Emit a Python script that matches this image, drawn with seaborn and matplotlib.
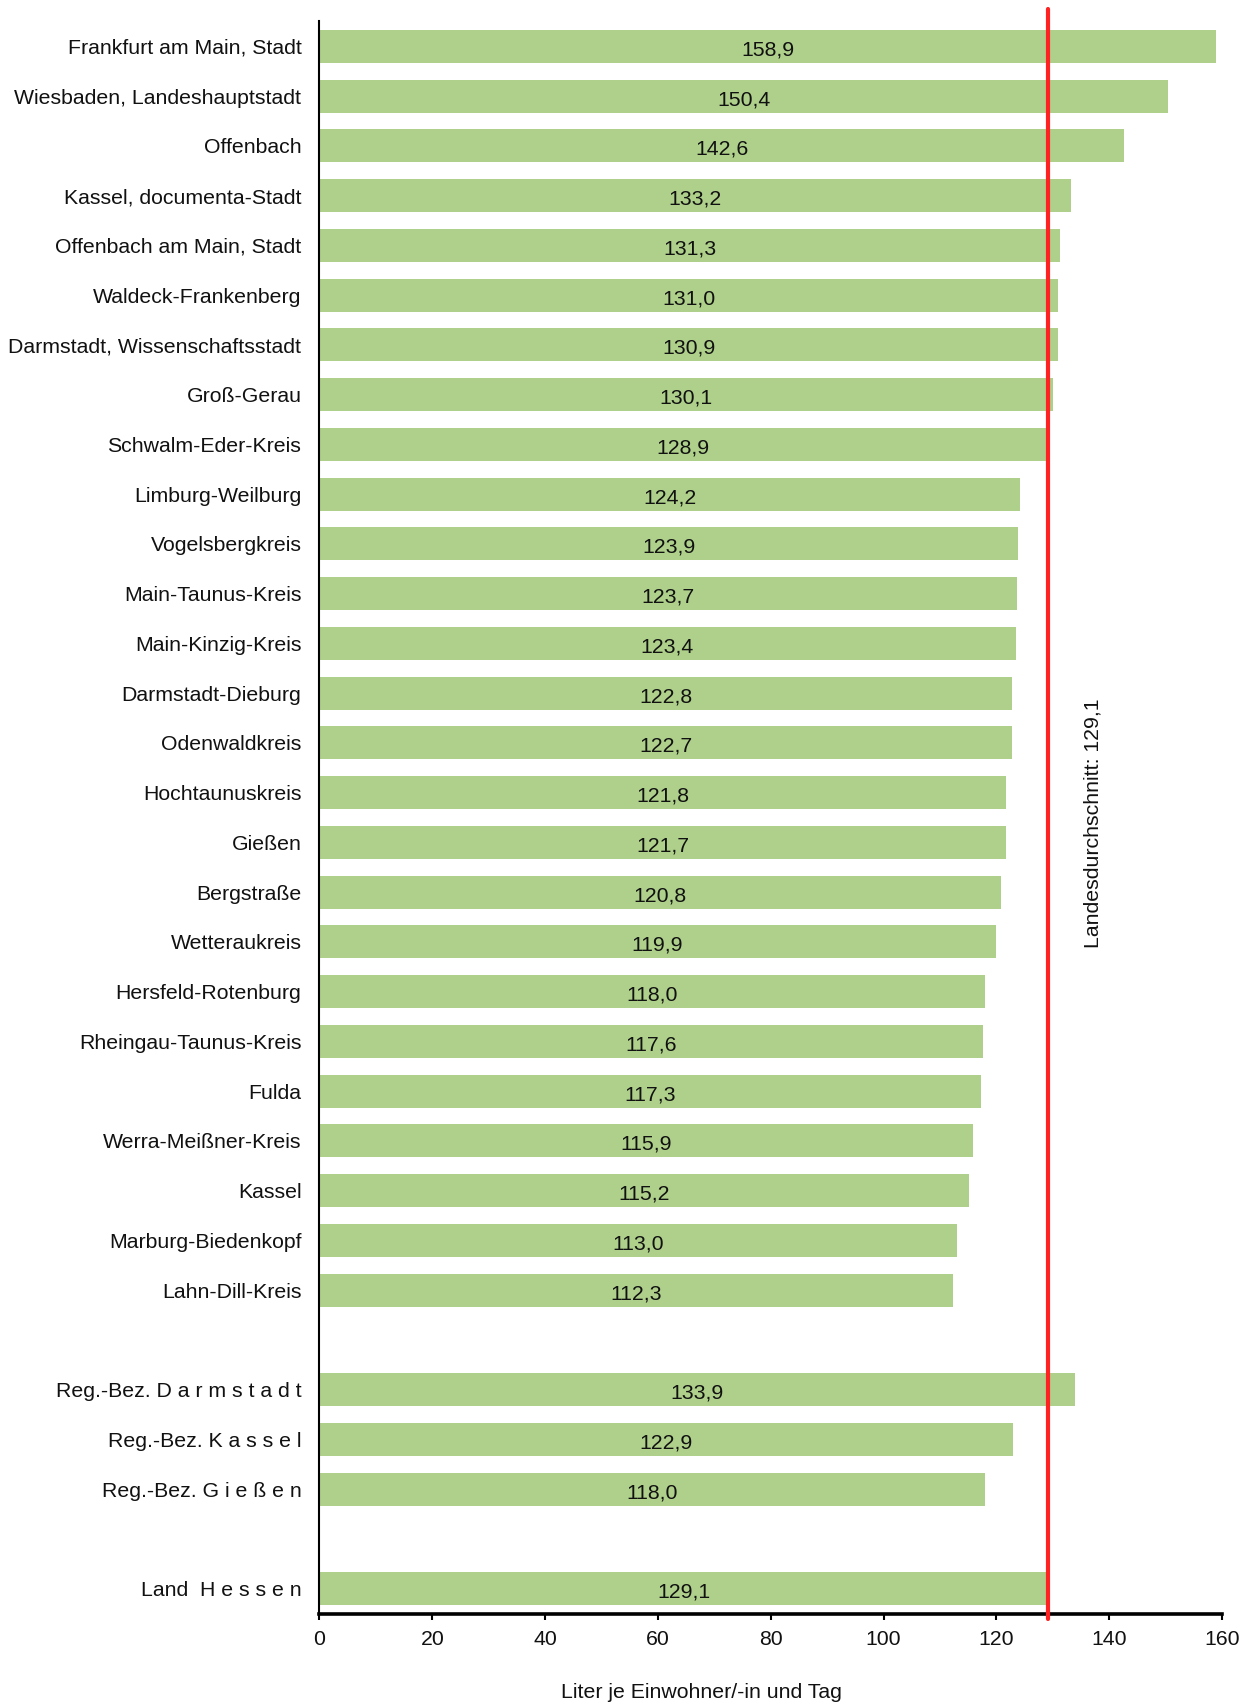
import pandas as pd
import matplotlib.pyplot as plt
import seaborn as sns

# Wasserverbrauch je Einwohner/-in und Tag (Liter), Hessen
kreise = [
    "Frankfurt am Main, Stadt", "Wiesbaden, Landeshauptstadt", "Offenbach",
    "Kassel, documenta-Stadt", "Offenbach am Main, Stadt", "Waldeck-Frankenberg",
    "Darmstadt, Wissenschaftsstadt", "Groß-Gerau", "Schwalm-Eder-Kreis",
    "Limburg-Weilburg", "Vogelsbergkreis", "Main-Taunus-Kreis", "Main-Kinzig-Kreis",
    "Darmstadt-Dieburg", "Odenwaldkreis", "Hochtaunuskreis", "Gießen", "Bergstraße",
    "Wetteraukreis", "Hersfeld-Rotenburg", "Rheingau-Taunus-Kreis", "Fulda",
    "Werra-Meißner-Kreis", "Kassel", "Marburg-Biedenkopf", "Lahn-Dill-Kreis",
]
kreise_werte = [
    158.9, 150.4, 142.6, 133.2, 131.3, 131.0, 130.9, 130.1, 128.9, 124.2, 123.9,
    123.7, 123.4, 122.8, 122.7, 121.8, 121.7, 120.8, 119.9, 118.0, 117.6, 117.3,
    115.9, 115.2, 113.0, 112.3,
]
bezirke = ["Reg.-Bez. D a r m s t a d t", "Reg.-Bez. K a s s e l", "Reg.-Bez. G i e ß e n"]
bezirke_werte = [133.9, 122.9, 118.0]
land = ["Land  H e s s e n"]
land_werte = [129.1]
durchschnitt = 129.1

# leere Kategorien als Abstand zwischen den Gruppen
order = kreise + [" "] + bezirke + ["  "] + land
data = pd.DataFrame({
    "name": kreise + bezirke + land,
    "wert": kreise_werte + bezirke_werte + land_werte,
})

sns.set_theme(style="white")
plt.rcParams["font.family"] = ["Liberation Sans", "DejaVu Sans"]
fs = 15.3

fig = plt.figure(figsize=(12.46, 17.04), dpi=100)
ax = fig.add_axes([0.2564, 0.0528, 0.7243, 0.9349])

sns.barplot(data=data, x="wert", y="name", order=order, orient="h",
            color="#AED08A", saturation=1, width=0.66, edgecolor="none", ax=ax)

# Werte mittig in die Balken schreiben
for cont in ax.containers:
    texte = ax.bar_label(cont, labels=[f"{w.get_width():.1f}".replace(".", ",") for w in cont],
                         label_type="center", fontsize=fs, color="#111111")
    for t in texte:
        t.xyann = (0, -2.5)

# Landesdurchschnitt
ax.axvline(durchschnitt, ymin=-0.003, ymax=1.0075, color="#FF2222", lw=3,
           clip_on=False, zorder=5)
ax.text(137.1, 15.62, "Landesdurchschnitt: " + f"{durchschnitt:.1f}".replace(".", ","),
        rotation=90, ha="center", va="center", fontsize=fs, color="#111111")

ax.set_xlim(0, 160)
ax.set_ylim(31.51, -0.51)
ax.set_xticks(range(0, 161, 20))
ax.set_xlabel("")
ax.set_ylabel("")

for side in ["top", "right"]:
    ax.spines[side].set_visible(False)
ax.spines["left"].set_linewidth(1.5)
ax.spines["left"].set_color("black")
ax.spines["bottom"].set_linewidth(2.6)
ax.spines["bottom"].set_color("black")

ax.tick_params(axis="x", length=4.5, width=1.5, color="black", direction="out",
               pad=7, labelsize=fs, labelcolor="#111111", bottom=True)
ax.tick_params(axis="y", length=0, pad=13, labelsize=fs, labelcolor="#111111")

fig.text(701 / 1246, 1 - 1692 / 1704, "Liter je Einwohner/-in und Tag",
         ha="center", va="center", fontsize=fs, color="#111111")

plt.savefig("out.png", dpi=100)
